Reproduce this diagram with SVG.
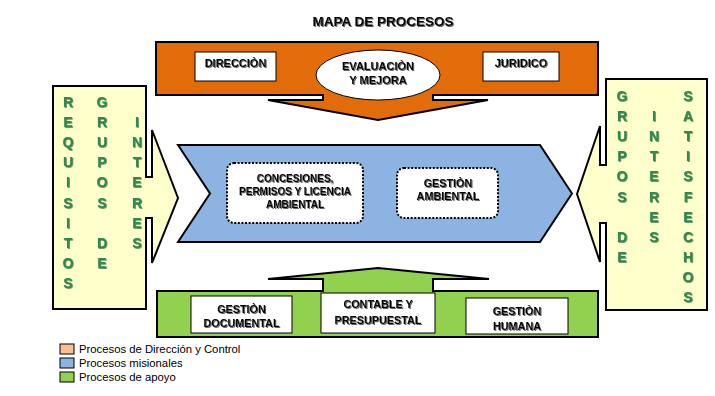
<svg xmlns="http://www.w3.org/2000/svg" width="715" height="396" viewBox="0 0 715 396">
<defs>
<filter id="sh" x="-10%" y="-10%" width="130%" height="140%">
<feDropShadow dx="1" dy="1" stdDeviation="0.4" flood-color="#555" flood-opacity="0.9"/>
</filter>
<filter id="gsh" x="-20%" y="-5%" width="150%" height="110%">
<feDropShadow dx="0.8" dy="0.8" stdDeviation="0.3" flood-color="#1d5a30" flood-opacity="0.8"/>
</filter>
</defs>
<style>
.lbl{font-family:"Liberation Sans",Arial,sans-serif;font-weight:bold;fill:#000;text-anchor:middle;filter:url(#sh)}
.col{font-family:"Liberation Sans",Arial,sans-serif;font-weight:bold;font-size:14px;fill:#2e8b4c;text-anchor:middle;filter:url(#gsh)}
.leg{font-family:"Liberation Sans",Arial,sans-serif;font-size:11.3px;fill:#000}
.shape{stroke:#000;stroke-width:2;stroke-linejoin:miter}
.box{fill:#fff;stroke:#000;stroke-width:1}
.dot{fill:#fff;stroke:#000;stroke-width:2;stroke-dasharray:2 1.6}
</style>
<rect width="715" height="396" fill="#fff"/>

<g id="title">
<text class="lbl" x="383" y="26" font-size="13.5">MAPA DE PROCESOS</text>
</g>

<g id="direccion-control">
<path class="shape" fill="#e36c0a" d="M156,42 H598 V95 H433 V100 H488 L378,120 L268,100 H323 V95 H156 Z"/>
<g id="node-direccion">
<rect class="box" x="195" y="52" width="81" height="29"/>
<text class="lbl" x="235.5" y="67" font-size="11">DIRECCIÒN</text>
</g>
<g id="node-evaluacion">
<ellipse cx="378" cy="75" rx="62" ry="25" fill="#fff" stroke="#000" stroke-width="1"/>
<text class="lbl" x="378" y="70" font-size="11">EVALUACIÒN</text>
<text class="lbl" x="378" y="84" font-size="11">Y MEJORA</text>
</g>
<g id="node-juridico">
<rect class="box" x="483" y="52" width="76" height="29"/>
<text class="lbl" x="521" y="67" font-size="11">JURIDICO</text>
</g>
</g>

<g id="misionales">
<path class="shape" fill="#8db3e2" d="M178,145 H540 L572,193.5 L540,242 H178 L210,193.5 Z"/>
<g id="node-concesiones">
<rect class="dot" x="227" y="163" width="136" height="60" rx="7"/>
<text class="lbl" x="295" y="182" font-size="10">CONCESIONES,</text>
<text class="lbl" x="295" y="195" font-size="10">PERMISOS Y LICENCIA</text>
<text class="lbl" x="295" y="208" font-size="10">AMBIENTAL</text>
</g>
<g id="node-gestion-ambiental">
<rect class="dot" x="397" y="168" width="101" height="50" rx="7"/>
<text class="lbl" x="448" y="187" font-size="10.8">GESTIÒN</text>
<text class="lbl" x="448" y="200" font-size="10.8">AMBIENTAL</text>
</g>
</g>

<g id="apoyo">
<path class="shape" fill="#92d050" d="M157,291 H323 V279 H268 L378,268 L489,279 H433 V291 H598 V337 H157 Z"/>
<g id="node-gestion-documental">
<rect class="box" x="191" y="296" width="101" height="37"/>
<text class="lbl" x="241.5" y="313" font-size="10.8">GESTIÒN</text>
<text class="lbl" x="241.5" y="327" font-size="10.8">DOCUMENTAL</text>
</g>
<g id="node-contable">
<rect class="box" x="321" y="293" width="114" height="40"/>
<text class="lbl" x="378" y="308" font-size="10.8">CONTABLE Y</text>
<text class="lbl" x="378" y="324" font-size="10.8">PRESUPUESTAL</text>
</g>
<g id="node-gestion-humana">
<rect class="box" x="466" y="298" width="102" height="36"/>
<text class="lbl" x="517" y="315" font-size="10.8">GESTIÒN</text>
<text class="lbl" x="517" y="330" font-size="10.8">HUMANA</text>
</g>
</g>

<g id="entrada">
<path class="shape" fill="#ffffcc" d="M53,86 H146 V177 H152 V130 L178,198 L152,263 V218 H146 V309 H53 Z"/>
<text class="col" x="68" y="107"><tspan x="68">R</tspan><tspan x="68" dy="20.1">E</tspan><tspan x="68" dy="20.1">Q</tspan><tspan x="68" dy="20.1">U</tspan><tspan x="68" dy="20.1">I</tspan><tspan x="68" dy="20.1">S</tspan><tspan x="68" dy="20.1">I</tspan><tspan x="68" dy="20.1">T</tspan><tspan x="68" dy="20.1">O</tspan><tspan x="68" dy="20.1">S</tspan></text>
<text class="col" x="102" y="107"><tspan x="102">G</tspan><tspan x="102" dy="20.1">R</tspan><tspan x="102" dy="20.1">U</tspan><tspan x="102" dy="20.1">P</tspan><tspan x="102" dy="20.1">O</tspan><tspan x="102" dy="20.1">S</tspan><tspan x="102" dy="40.2">D</tspan><tspan x="102" dy="20.1">E</tspan></text>
<text class="col" x="137" y="127.1"><tspan x="137">I</tspan><tspan x="137" dy="20.1">N</tspan><tspan x="137" dy="20.1">T</tspan><tspan x="137" dy="20.1">E</tspan><tspan x="137" dy="20.1">R</tspan><tspan x="137" dy="20.1">E</tspan><tspan x="137" dy="20.1">S</tspan></text>
</g>

<g id="salida">
<path class="shape" fill="#ffffcc" d="M707,79 H606 V165 H600 V126 L577,194 L600,262 V223 H606 V310 H707 Z"/>
<text class="col" x="622" y="101"><tspan x="622">G</tspan><tspan x="622" dy="20.1">R</tspan><tspan x="622" dy="20.1">U</tspan><tspan x="622" dy="20.1">P</tspan><tspan x="622" dy="20.1">O</tspan><tspan x="622" dy="20.1">S</tspan><tspan x="622" dy="40.2">D</tspan><tspan x="622" dy="20.1">E</tspan></text>
<text class="col" x="654" y="121.1"><tspan x="654">I</tspan><tspan x="654" dy="20.1">N</tspan><tspan x="654" dy="20.1">T</tspan><tspan x="654" dy="20.1">E</tspan><tspan x="654" dy="20.1">R</tspan><tspan x="654" dy="20.1">E</tspan><tspan x="654" dy="20.1">S</tspan></text>
<text class="col" x="688" y="101"><tspan x="688">S</tspan><tspan x="688" dy="20.1">A</tspan><tspan x="688" dy="20.1">T</tspan><tspan x="688" dy="20.1">I</tspan><tspan x="688" dy="20.1">S</tspan><tspan x="688" dy="20.1">F</tspan><tspan x="688" dy="20.1">E</tspan><tspan x="688" dy="20.1">C</tspan><tspan x="688" dy="20.1">H</tspan><tspan x="688" dy="20.1">O</tspan><tspan x="688" dy="20.1">S</tspan></text>
</g>

<g id="connectors"></g>

<g id="legend">
<rect x="60" y="344" width="14" height="10" fill="#fabf8f" stroke="#000" stroke-width="1"/>
<text class="leg" x="79" y="353">Procesos de Dirección y Control</text>
<rect x="60" y="358" width="14" height="10" fill="#8db3e2" stroke="#000" stroke-width="1"/>
<text class="leg" x="79" y="367">Procesos misionales</text>
<rect x="60" y="372" width="14" height="10" fill="#92d050" stroke="#000" stroke-width="1"/>
<text class="leg" x="79" y="381">Procesos de apoyo</text>
</g>
</svg>
